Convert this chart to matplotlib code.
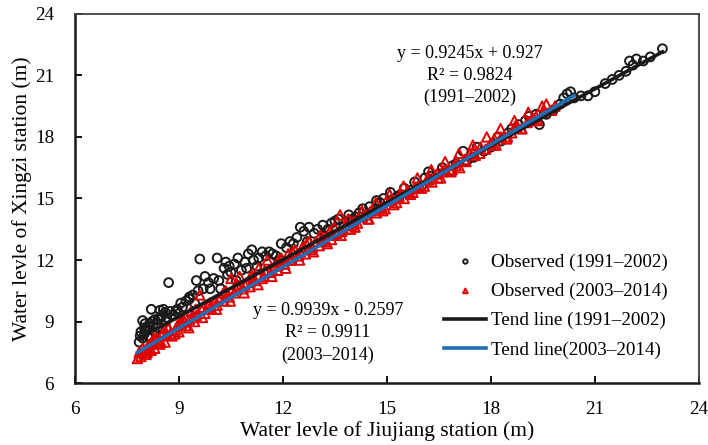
import matplotlib
matplotlib.use('Agg')
import matplotlib.pyplot as plt
import numpy as np

plt.rcParams['font.family'] = ['Liberation Serif', 'DejaVu Serif']

# Observed 1991-2002 (Jiujiang, Xingzi)
obs1_x = [7.85, 7.9, 7.95, 7.95, 8.0, 8.05, 8.1, 8.15, 8.2, 8.25, 8.3, 8.35, 8.4, 8.45,
          8.5, 8.55, 8.6, 8.65, 8.7, 8.75, 8.85, 8.95, 9.05, 9.1, 9.2, 9.3, 9.4, 9.5,
          9.55, 9.6, 9.7, 9.75, 9.85, 10.0, 10.1, 10.15, 10.3, 10.35, 10.45, 10.5, 10.6,
          10.7, 10.8, 10.9, 11.0, 11.1, 11.15, 11.3, 11.4, 11.5, 11.6, 11.8, 11.95, 12.1,
          12.2, 12.4, 12.5, 12.6, 12.75, 12.9, 13.0, 13.15, 13.3, 13.5, 13.6, 13.75, 13.9,
          14.0, 14.2, 14.3, 14.5, 14.6, 14.8, 14.9, 15.1, 15.2, 15.4, 15.5, 15.7, 15.8,
          16.0, 16.1, 16.3, 16.5, 16.6, 16.8, 17.0, 17.2, 17.3, 17.5, 17.6, 17.8, 18.0,
          18.2, 18.3, 18.5, 18.6, 18.8, 19.0, 19.1, 19.3, 19.4, 19.6, 19.8, 20.0, 20.1,
          20.2, 20.3, 20.4, 20.6, 20.8, 21.0, 21.3, 21.5, 21.7, 21.9, 22.0, 22.1, 22.2,
          22.4, 22.6, 22.95, 8.0, 8.3, 8.9, 9.3, 9.9, 10.4, 10.95, 11.7, 12.3, 13.4,
          7.88, 8.02, 8.12, 8.22, 8.38, 8.48, 8.62, 9.0, 9.45, 10.2, 10.65, 11.25,
          11.9, 12.7, 13.2, 14.1, 14.7, 15.3, 16.2, 16.9]
obs1_y = [8.0, 8.5, 9.05, 8.2, 8.4, 8.6, 8.3, 8.9, 9.6, 8.75, 8.5, 8.9, 9.1, 9.55,
          9.3, 9.6, 9.45, 9.2, 10.9, 9.5, 9.3, 9.6, 9.9, 9.7, 10.0, 10.2, 10.3, 11.0,
          10.5, 12.05, 10.6, 11.2, 10.9, 11.1, 12.1, 11.0, 11.6, 11.9, 11.7, 11.4, 11.8,
          12.1, 11.5, 11.9, 12.3, 12.5, 12.0, 12.1, 12.4, 12.2, 12.4, 12.2, 12.8, 12.6,
          12.9, 13.1, 13.6, 13.4, 13.6, 13.3, 13.5, 13.7, 13.5, 13.9, 14.0, 13.6, 14.2,
          14.0, 14.3, 14.5, 14.6, 14.4, 14.8, 15.0, 15.3, 15.0, 15.2, 15.5, 15.4, 15.8,
          15.6, 16.0, 16.1, 16.2, 16.5, 16.3, 16.7, 17.3, 16.8, 17.0, 17.5, 17.3, 17.5,
          18.0, 17.8, 18.2, 18.4, 18.6, 18.8, 19.0, 19.1, 18.6, 19.1, 19.3, 19.6, 19.9,
          20.1, 20.2, 19.9, 20.0, 20.0, 20.2, 20.6, 20.8, 21.0, 21.2, 21.7, 21.5, 21.8,
          21.7, 21.9, 22.3, 8.7, 9.1, 9.5, 10.1, 10.6, 11.3, 11.6, 12.3, 12.8, 13.8,
          8.3, 8.9, 8.6, 9.0, 8.7, 9.2, 9.0, 9.4, 9.9, 10.6, 11.0, 11.7,
          12.0, 12.9, 13.2, 14.1, 14.9, 15.1, 16.3, 16.6]

# Observed 2003-2014
obs2_x = [7.8, 7.85, 7.9, 8.0, 8.05, 8.1, 8.2, 8.25, 8.3, 8.4, 8.45, 8.5, 8.6, 8.65,
          8.7, 8.8, 8.9, 9.0, 9.05, 9.1, 9.2, 9.3, 9.35, 9.45, 9.5, 9.6, 9.65, 9.75,
          9.85, 9.95, 10.05, 10.1, 10.2, 10.3, 10.35, 10.45, 10.5, 10.6, 10.7, 10.75,
          10.85, 10.95, 11.05, 11.1, 11.2, 11.3, 11.4, 11.5, 11.55, 11.65, 11.75, 11.85,
          11.95, 12.05, 12.15, 12.25, 12.35, 12.45, 12.55, 12.65, 12.75, 12.85, 12.95,
          13.05, 13.15, 13.25, 13.35, 13.45, 13.55, 13.65, 13.75, 13.85, 13.95, 14.05,
          14.15, 14.3, 14.45, 14.55, 14.7, 14.85, 14.95, 15.1, 15.2, 15.35, 15.5, 15.6,
          15.75, 15.9, 16.0, 16.15, 16.3, 16.45, 16.55, 16.7, 16.85, 17.0, 17.1, 17.25,
          17.4, 17.55, 17.7, 17.85, 18.0, 18.15, 18.3, 18.45, 18.6, 18.75, 18.9, 19.05,
          19.2, 19.35, 19.5, 19.6, 19.75, 19.85,
          7.95, 8.15, 8.35, 8.55, 8.75, 8.95, 9.15, 9.4, 9.7, 9.9, 10.15, 10.4, 10.65,
          10.9, 11.15, 11.45, 11.7, 11.9, 12.2, 12.5, 12.8, 13.1, 13.4, 13.7, 14.0, 14.4,
          14.8, 15.3, 15.8, 16.2, 16.6, 17.0, 17.5, 18.1, 18.7, 19.3,
          8.08, 8.28, 8.48, 8.68, 8.88, 9.08, 9.28, 9.48, 9.68, 9.88, 10.08, 10.28,
          10.48, 10.68, 10.88, 11.08, 11.28, 11.48, 11.68, 11.88, 12.08, 12.28, 12.48,
          12.68, 12.88, 13.08, 13.28, 13.48, 13.68, 13.88, 14.08, 14.28, 14.48, 14.68,
          14.88, 15.08, 15.28, 15.48, 15.68, 15.88, 16.08, 16.28, 16.48, 16.68, 16.88,
          17.08, 17.28, 17.48, 17.68, 17.88, 18.08, 18.28, 18.48, 18.68, 18.88, 19.08,
          19.28, 19.48]
obs2_y = [7.2, 7.5, 7.3, 7.6, 7.4, 7.8, 7.6, 8.0, 7.7, 8.1, 7.9, 8.3, 8.0, 8.4,
          8.7, 8.3, 8.6, 8.5, 8.9, 9.2, 8.8, 9.1, 9.5, 9.0, 9.3, 10.3, 9.6, 9.4,
          9.8, 9.6, 10.0, 9.8, 10.2, 10.0, 10.5, 10.2, 11.1, 10.4, 10.7, 11.2,
          10.6, 10.9, 10.7, 11.3, 11.0, 11.6, 11.1, 11.4, 12.0, 11.4, 11.7, 11.5,
          12.1, 11.8, 12.3, 12.0, 12.5, 12.2, 12.6, 12.3, 12.9, 12.6, 12.9,
          12.7, 13.1, 12.9, 13.4, 13.2, 13.3, 14.2, 13.5, 13.7, 13.5, 13.9,
          13.8, 14.1, 14.0, 14.4, 14.3, 14.6, 14.5, 14.9, 14.7, 15.1, 15.0, 15.4,
          15.3, 15.6, 15.5, 15.9, 15.8, 16.2, 16.0, 16.4, 16.3, 16.6, 16.5, 16.9,
          17.2, 17.1, 17.5, 17.4, 17.7, 17.6, 18.0, 17.9, 18.2, 18.5, 18.4, 18.7,
          18.9, 18.8, 19.2, 19.6, 19.3, 19.5,
          7.7, 7.9, 8.2, 8.5, 8.4, 8.8, 9.0, 9.2, 9.7, 9.7, 10.1, 10.3, 10.6,
          10.8, 11.1, 11.2, 11.5, 11.9, 12.0, 12.4, 12.5, 12.9, 13.0, 13.4, 13.7, 14.2,
          14.5, 15.0, 15.5, 15.9, 16.3, 16.8, 17.3, 17.9, 18.5, 19.0,
          7.5, 8.2, 8.0, 8.7, 8.4, 9.0, 8.7, 9.6, 9.2, 9.9, 9.6, 10.4,
          10.0, 10.8, 10.4, 11.2, 10.8, 11.5, 11.2, 12.0, 11.6, 12.4, 12.0,
          12.8, 12.4, 13.2, 12.8, 13.6, 13.2, 14.0, 13.6, 14.4, 14.0, 14.8,
          14.4, 15.2, 14.8, 15.6, 15.2, 16.0, 15.6, 16.4, 16.0, 16.8, 16.4,
          17.2, 16.8, 17.6, 17.2, 18.0, 17.6, 18.4, 18.0, 18.8, 18.4, 19.2,
          18.8, 19.5]

# trend line coefficients and extents
fit1 = (0.9245, 0.927)
fit2 = (0.9939, -0.2597)
fit1_range = (7.85, 22.95)
fit2_range = (7.8, 20.4)

fig = plt.figure(figsize=(7.08, 4.45), dpi=100)
ax = fig.add_axes([0.106, 0.139, 0.881, 0.83])

ax.scatter(obs1_x, obs1_y, s=40, facecolors='none', edgecolors='#1a1a1a',
           linewidths=1.4, marker='o', label='Observed (1991\u20132002)', zorder=2)
ax.scatter(obs2_x, obs2_y, s=46, facecolors='none', edgecolors='#e00000',
           linewidths=1.4, marker='^', label='Observed (2003\u20132014)', zorder=3)

xl1 = np.array(fit1_range)
xl2 = np.array(fit2_range)
ax.plot(xl1, fit1[0] * xl1 + fit1[1], color='#1a1a1a', lw=2.6,
        label='Tend line (1991\u20132002)', zorder=4)
ax.plot(xl2, fit2[0] * xl2 + fit2[1], color='#1f6db4', lw=2.6,
        label='Tend line(2003\u20132014)', zorder=5)

ax.text(17.38, 21.0, 'y = 0.9245x + 0.927\nR\u00b2 = 0.9824\n(1991\u20132002)',
        ha='center', va='center', fontsize=13, linespacing=1.35)
ax.text(13.3, 8.45, 'y = 0.9939x - 0.2597\nR\u00b2 = 0.9911\n(2003\u20132014)',
        ha='center', va='center', fontsize=13, linespacing=1.4)

ax.set_xlim(6, 24)
ax.set_ylim(6, 24)
ax.set_xticks(np.arange(6, 25, 3))
ax.set_yticks(np.arange(6, 25, 3))
ax.tick_params(direction='in', length=5, width=1.3, labelsize=13.8,
               top=False, right=False)
ax.tick_params(axis='x', pad=13)
ax.tick_params(axis='y', pad=15)

for s in ['left', 'bottom']:
    ax.spines[s].set_linewidth(1.8)
    ax.spines[s].set_color('#1a1a1a')
for s in ['top', 'right']:
    ax.spines[s].set_linewidth(1.3)
    ax.spines[s].set_color('#404040')

ax.set_xlabel('Water levle of Jiujiang station (m)', fontsize=15.5, labelpad=2)
ax.set_ylabel('Water levle of Xingzi station (m)', fontsize=15.5, labelpad=2)

ax.legend(loc='upper left', bbox_to_anchor=(0.592, 0.352), frameon=False,
          fontsize=13.8, handlelength=2.2, handletextpad=0.25, labelspacing=0.62,
          markerscale=0.5, borderpad=0, borderaxespad=0)

fig.savefig('out.png', dpi=100)
